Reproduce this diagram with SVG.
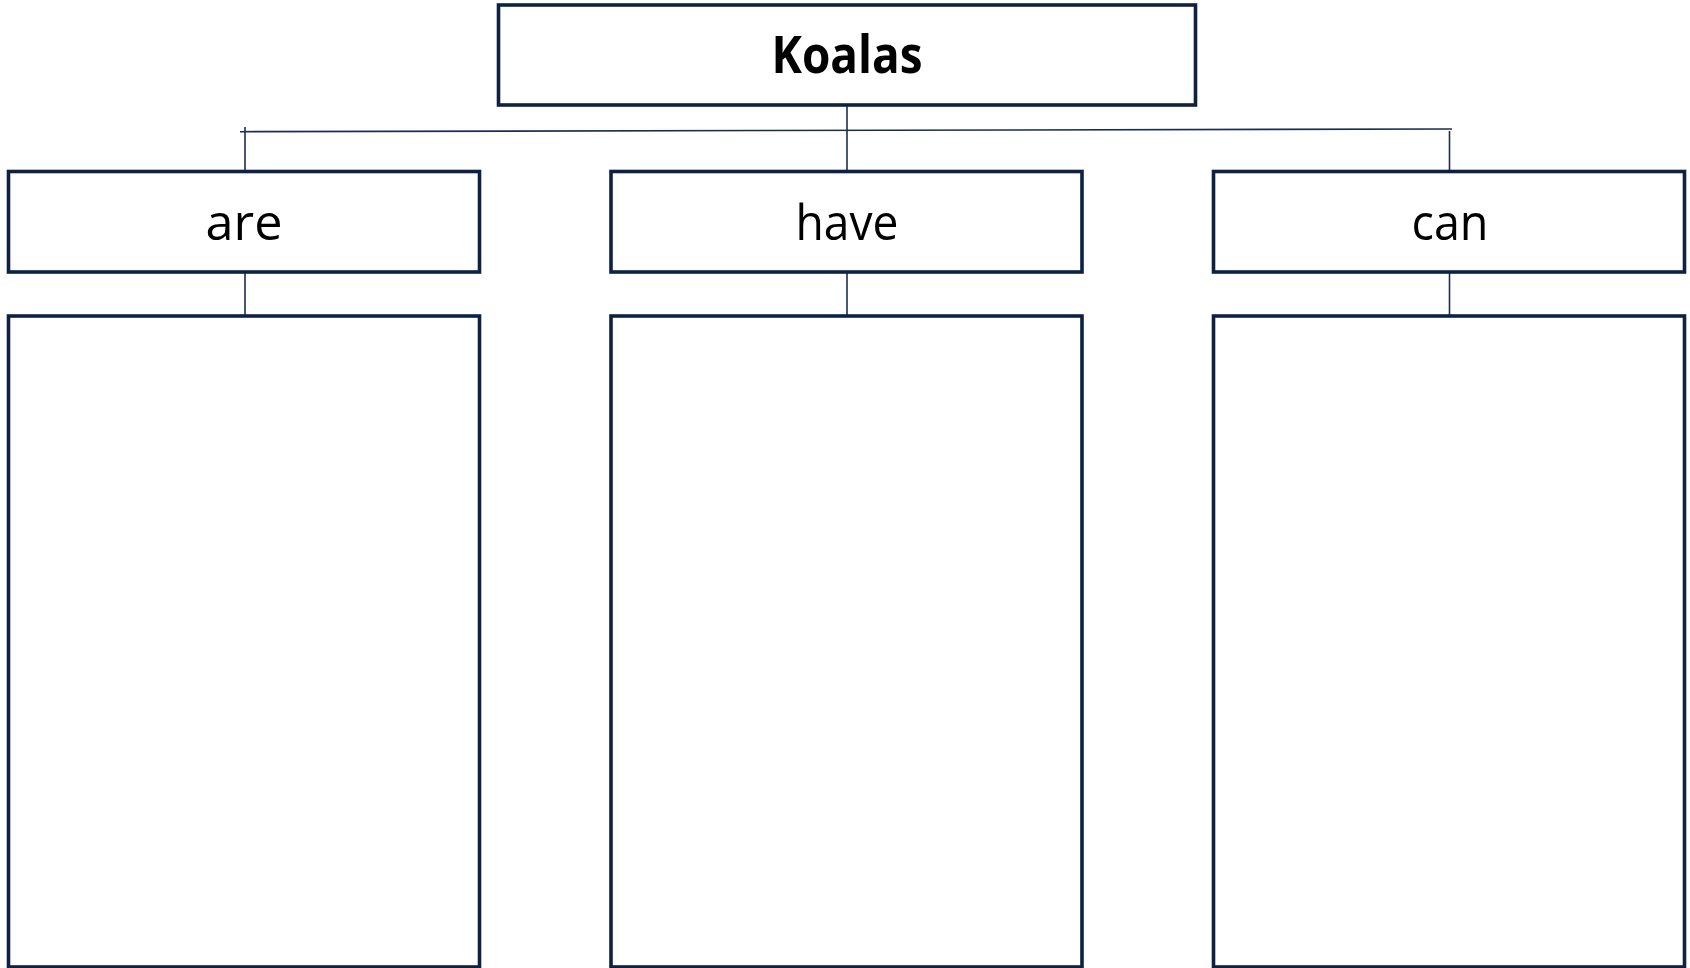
<svg xmlns="http://www.w3.org/2000/svg" width="1690" height="968" viewBox="0 0 1690 968">
<style>
.box{fill:#ffffff;stroke:#0e2142;stroke-width:3.6}
.conn{fill:none;stroke:#1b2d4f;stroke-width:1.6}
.lbl{font-family:"Comic Sans MS","Open Sans","Liberation Sans",sans-serif;fill:#000000;text-anchor:middle}
.title{font-size:52px;font-weight:bold}
.cat{font-size:50px}
</style>
<rect x="0" y="0" width="1690" height="968" fill="#ffffff"/>
<g id="connectors">
<line class="conn" x1="240" y1="131.7" x2="1452" y2="129"/>
<line class="conn" x1="847" y1="105" x2="847" y2="171"/>
<line class="conn" x1="245" y1="127" x2="245" y2="171"/>
<line class="conn" x1="1449.5" y1="131" x2="1449.5" y2="171"/>
<line class="conn" x1="245" y1="272" x2="245" y2="316"/>
<line class="conn" x1="847" y1="272" x2="847" y2="316"/>
<line class="conn" x1="1449.5" y1="272" x2="1449.5" y2="316"/>
</g>
<g id="koalas">
<rect class="box" x="498.5" y="5" width="697" height="100"/>
<text class="lbl title" x="847" y="73" textLength="151" lengthAdjust="spacingAndGlyphs">Koalas</text>
</g>
<g id="are">
<rect class="box" x="8.5" y="171.5" width="471" height="100.5"/>
<text class="lbl cat" x="244" y="240" textLength="77" lengthAdjust="spacingAndGlyphs">are</text>
</g>
<g id="have">
<rect class="box" x="611" y="171.5" width="471" height="100.5"/>
<text class="lbl cat" x="847" y="240" textLength="103" lengthAdjust="spacingAndGlyphs">have</text>
</g>
<g id="can">
<rect class="box" x="1213.5" y="171.5" width="471" height="100.5"/>
<text class="lbl cat" x="1450" y="240" textLength="77" lengthAdjust="spacingAndGlyphs">can</text>
</g>
<g id="are-list">
<rect class="box" x="8.5" y="316" width="471" height="651"/>
</g>
<g id="have-list">
<rect class="box" x="611" y="316" width="471" height="651"/>
</g>
<g id="can-list">
<rect class="box" x="1213.5" y="316" width="471" height="651"/>
</g>
</svg>
